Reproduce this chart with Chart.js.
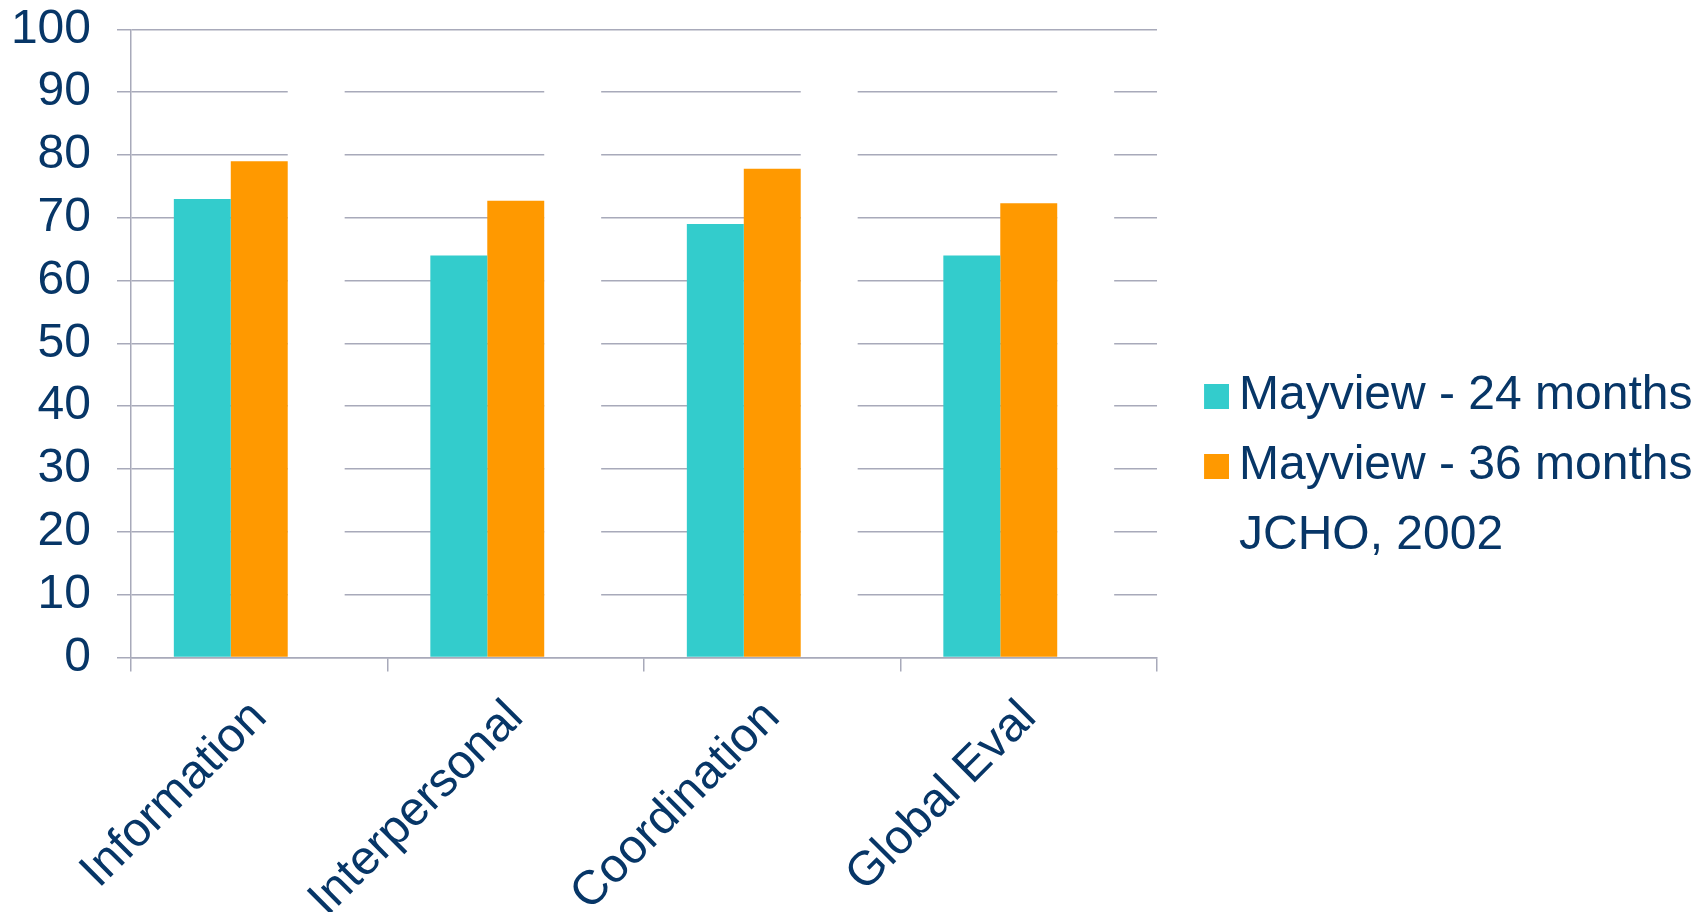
<!DOCTYPE html>
<html>
<head>
<meta charset="utf-8">
<script src="https://cdn.jsdelivr.net/npm/chart.js@4.4.0/dist/chart.umd.min.js"></script>
<style>
    html, body { margin: 0; padding: 0; background: #ffffff; }
    #wrap { width: 1704px; height: 912px; }
</style>
</head>
<body>
<div id="wrap"><canvas id="myChart" width="1704" height="912"></canvas></div>
<script>
const categories = ['Information', 'Interpersonal', 'Coordination', 'Global Eval'];
const seriesNames = ['Mayview - 24 months', 'Mayview - 36 months', 'JCHO, 2002'];
const mayview24 = [73, 64, 69, 64];
const mayview36 = [79, 72.7, 77.8, 72.3];
// the JCHO series is drawn white (only visible where it breaks the grid lines)
const jcho2002 = [95, 95, 95, 95];
const seriesColors = ['#33cccc', '#ff9900', '#ffffff'];

const navy = '#073667';
const gridGray = '#a8aaba';

Chart.defaults.font.family = '"Liberation Sans", Arial, sans-serif';
Chart.defaults.color = navy;

// legend swatch: small square drawn a bit to the right of the box slot
function makeSwatch(color) {
    const c = document.createElement('canvas');
    c.width = 64;
    c.height = 25;
    const g = c.getContext('2d');
    g.fillStyle = color;
    g.fillRect(39, 0, 25, 25);
    return c;
}

function renderChart() {
    const ctx = document.getElementById('myChart').getContext('2d');
    const seriesData = [mayview24, mayview36, jcho2002];

    new Chart(ctx, {
        type: 'bar',
        data: {
            labels: categories,
            datasets: seriesNames.map((name, i) => ({
                label: name,
                data: seriesData[i],
                backgroundColor: seriesColors[i],
                borderWidth: 0,
                barPercentage: 1,
                categoryPercentage: 0.666
            }))
        },
        options: {
            responsive: false,
            animation: false,
            devicePixelRatio: 1,
            layout: {
                padding: { left: 11, right: 1.5, top: 0, bottom: 0 }
            },
            scales: {
                x: {
                    grid: {
                        drawOnChartArea: false,
                        drawTicks: true,
                        tickLength: 14,
                        color: gridGray,
                        lineWidth: 1.5,
                        offset: true
                    },
                    border: { display: true, color: gridGray, width: 1.5 },
                    ticks: {
                        autoSkip: false,
                        minRotation: 45,
                        maxRotation: 45,
                        padding: 18,
                        color: navy,
                        font: { size: 48 }
                    },
                    afterFit: (scale) => { scale.height = 254.5; }
                },
                y: {
                    min: 0,
                    max: 100,
                    ticks: {
                        stepSize: 10,
                        padding: 26,
                        color: navy,
                        font: { size: 48 }
                    },
                    grid: {
                        color: gridGray,
                        lineWidth: 1.5,
                        tickLength: 14,
                        drawTicks: true
                    },
                    border: { display: true, color: gridGray, width: 1.5 },
                    afterFit: (scale) => {
                        scale.width = 120;
                        scale.paddingTop = 29.3;
                    }
                }
            },
            plugins: {
                tooltip: { enabled: false },
                legend: {
                    position: 'right',
                    maxWidth: 700,
                    title: {
                        display: true,
                        text: '',
                        font: { size: 10 },
                        padding: { top: 4, bottom: 4 }
                    },
                    labels: {
                        usePointStyle: true,
                        boxWidth: 36,
                        padding: 22,
                        color: navy,
                        font: { size: 48 },
                        generateLabels: (chart) => {
                            const items = Chart.defaults.plugins.legend.labels.generateLabels(chart);
                            items.forEach((item) => {
                                item.pointStyle = makeSwatch(seriesColors[item.datasetIndex]);
                            });
                            return items;
                        }
                    }
                }
            }
        }
    });
}

document.addEventListener('DOMContentLoaded', renderChart);
</script>
</body>
</html>
